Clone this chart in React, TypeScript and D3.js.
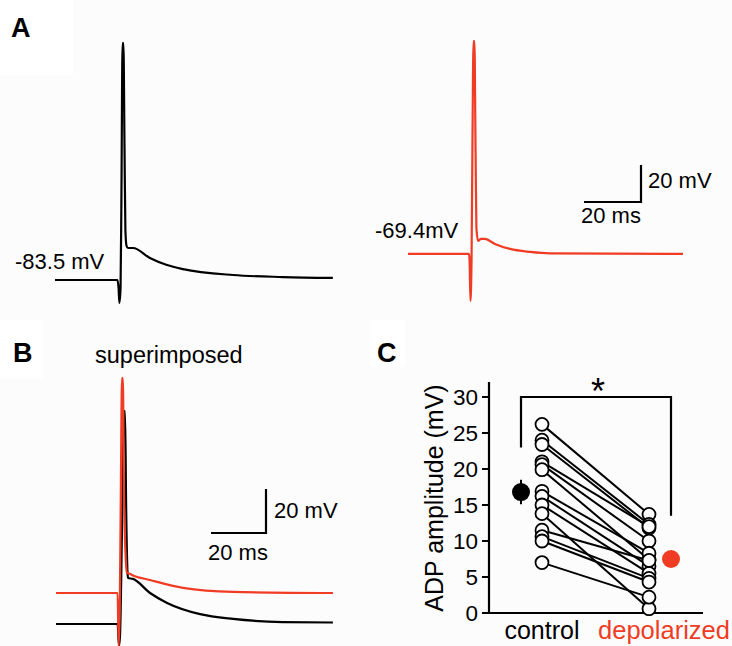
import React, { useEffect, useRef } from 'react';
import * as d3 from 'd3';

// Panel A traces: [time (ms), membrane potential (mV)]
const controlTrace: [number, number][] = [
  [0, -83.5], [21.9, -83.5], [22.3, -87.8], [22.6, -95.9], [23.0, -87.8],
  [23.3, -40.3], [23.7, 44.6], [24.0, 44.6], [24.4, -13.2], [24.7, -56.5],
  [25.1, -65.1], [25.6, -66.2], [27.4, -66.2], [33.3, -71.6], [39.3, -75.4],
  [44.9, -77.6], [62.5, -80.8], [80.0, -81.9], [97.5, -82.4],
];
const depolTrace: [number, number][] = [
  [0, -69.4], [21.4, -69.4], [21.6, -72.6], [21.9, -94.8], [22.3, -72.6],
  [22.6, -12.1], [23.0, 45.7], [23.3, 45.7], [23.7, -12.1], [24.0, -55.3],
  [24.6, -62.4], [25.6, -61.3], [27.0, -61.3], [30.5, -64.0], [35.8, -66.7],
  [42.8, -68.3], [49.8, -69.1], [96.5, -69.4],
];

// Panel B (superimposed) traces
const superControl: [number, number][] = [
  [0, -83.5], [22.4, -83.5], [22.9, -93.5], [23.3, -88], [24.0, -40],
  [24.7, 13.3], [25.1, 13.3], [25.5, -30], [26.0, -60], [26.2, -62.6],
  [28.0, -63.0], [34.2, -69.4], [40.4, -73.9], [52.4, -79.0], [64.4, -81.2],
  [82.5, -82.6], [100.7, -82.8],
];
const superDepol: [number, number][] = [
  [0, -69.4], [22.4, -69.4], [22.8, -93.5], [23.2, -75], [23.6, -20],
  [24.0, 28.3], [24.3, 28.3], [24.7, -20], [25.4, -55], [25.8, -60.3],
  [26.5, -60.5], [27.6, -61.2], [34.2, -63.5], [46.2, -67.1], [64.4, -68.9],
  [100.7, -69.4],
];

// Panel C: ADP amplitude per cell (mV)
const groups = ['control', 'depolarized'];
const controlADP = [26.2, 24.0, 23.4, 21.0, 20.6, 19.9, 16.9, 16.2, 15.0, 13.8, 11.5, 10.6, 10.0, 7.0];
const depolADP = [13.7, 12.3, 11.8, 12.0, 10.0, 7.4, 8.3, 6.5, 5.5, 0.6, 7.3, 4.8, 4.3, 2.2];
const groupMeans = [16.8, 7.5];
const groupSEM = [1.7, 1.0];
const yTicks = [0, 5, 10, 15, 20, 25, 30];

const RED = '#f03c24';
const FONT = '"Liberation Sans", Arial, sans-serif';

const App = () => {
  const svgRef = useRef<SVGSVGElement>(null);

  useEffect(() => {
    const svg = d3.select(svgRef.current);
    svg.selectAll('*').remove();
    svg.attr('width', 732).attr('height', 646).style('font-family', FONT);

    svg.append('rect').attr('width', 732).attr('height', 646).attr('fill', '#fcfcfc');
    // white label patches
    svg.append('rect').attr('x', 0).attr('y', 0).attr('width', 73).attr('height', 75).attr('fill', '#fff');
    svg.append('rect').attr('x', 0).attr('y', 320).attr('width', 43).attr('height', 58).attr('fill', '#fff');
    svg.append('rect').attr('x', 370).attr('y', 320).attr('width', 35).attr('height', 47).attr('fill', '#fff');

    const label = (x: number, y: number, txt: string, size: number, opts: any = {}) =>
      svg.append('text')
        .attr('x', x).attr('y', y)
        .style('font-size', size + 'px')
        .style('font-weight', opts.bold ? 'bold' : 'normal')
        .attr('fill', opts.color || '#000')
        .attr('text-anchor', opts.anchor || 'start')
        .text(txt);

    // ---------- Panel A ----------
    const yA = d3.scaleLinear().domain([-83.5, 0]).range([280, 280 - 83.5 * 1.85]);
    const xA1 = d3.scaleLinear().domain([0, 100]).range([55, 340]);
    const xA2 = d3.scaleLinear().domain([0, 100]).range([408, 693]);

    const lineA1 = d3.line<[number, number]>().x(d => xA1(d[0])).y(d => yA(d[1])).curve(d3.curveMonotoneX);
    const lineA2 = d3.line<[number, number]>().x(d => xA2(d[0])).y(d => yA(d[1])).curve(d3.curveMonotoneX);

    svg.append('path').datum(controlTrace).attr('fill', 'none').attr('stroke', '#000')
      .attr('stroke-width', 2.2).attr('stroke-linejoin', 'round').attr('d', lineA1);
    svg.append('path').datum(depolTrace).attr('fill', 'none').attr('stroke', RED)
      .attr('stroke-width', 2.2).attr('stroke-linejoin', 'round').attr('d', lineA2);

    label(11, 37, 'A', 27, { bold: true });
    label(15, 269, '-83.5 mV', 22);
    label(375, 238, '-69.4mV', 22);

    // scale bar A
    const barAx = 641, barAy = 202;
    const msA = xA2(20) - xA2(0);
    const mvA = yA(-83.5) - yA(-63.5);
    svg.append('path').attr('fill', 'none').attr('stroke', '#000').attr('stroke-width', 2.2)
      .attr('d', `M${barAx - msA},${barAy}H${barAx}V${barAy - mvA}`);
    label(648, 188, '20 mV', 22);
    label(581, 223, '20 ms', 22);

    // ---------- Panel B ----------
    const yB = d3.scaleLinear().domain([-69.4, 0]).range([593, 593 - 69.4 * 2.2]);
    const xB = d3.scaleLinear().domain([0, 100]).range([56, 331]);
    const lineB = d3.line<[number, number]>().x(d => xB(d[0])).y(d => yB(d[1])).curve(d3.curveMonotoneX);

    svg.append('path').datum(superControl).attr('fill', 'none').attr('stroke', '#000')
      .attr('stroke-width', 2.2).attr('stroke-linejoin', 'round').attr('d', lineB);
    svg.append('path').datum(superDepol).attr('fill', 'none').attr('stroke', RED)
      .attr('stroke-width', 2.2).attr('stroke-linejoin', 'round').attr('d', lineB);

    label(13, 362, 'B', 27, { bold: true });
    label(95, 363, 'superimposed', 23.5);

    const barBx = 266, barBy = 533;
    const msB = xB(20) - xB(0);
    const mvB = yB(-69.4) - yB(-49.4);
    svg.append('path').attr('fill', 'none').attr('stroke', '#000').attr('stroke-width', 2.2)
      .attr('d', `M${barBx - msB},${barBy}H${barBx}V${barBy - mvB}`);
    label(274, 518, '20 mV', 22);
    label(208, 560, '20 ms', 22);

    // ---------- Panel C ----------
    const yC = d3.scaleLinear().domain([0, 30]).range([613, 397]);
    const xC = d3.scalePoint<string>().domain(groups).range([542, 649]);
    const meanOffset = [-21, 22];

    label(377, 362, 'C', 27, { bold: true });

    // axes
    const axisX = 489;
    svg.append('line').attr('x1', axisX).attr('x2', axisX).attr('y1', 382).attr('y2', yC(0))
      .attr('stroke', '#000').attr('stroke-width', 2.2);
    svg.append('line').attr('x1', axisX).attr('x2', 703).attr('y1', yC(0)).attr('y2', yC(0))
      .attr('stroke', '#000').attr('stroke-width', 2.2);
    yTicks.forEach(t => {
      svg.append('line').attr('x1', axisX - 7).attr('x2', axisX).attr('y1', yC(t)).attr('y2', yC(t))
        .attr('stroke', '#000').attr('stroke-width', 2);
      svg.append('text').attr('x', 478).attr('y', yC(t)).attr('dy', '0.36em')
        .attr('text-anchor', 'end').style('font-size', '22.5px').text(t);
    });
    svg.append('text')
      .attr('transform', `translate(443,498) rotate(-90)`)
      .attr('text-anchor', 'middle').style('font-size', '25px')
      .text('ADP amplitude (mV)');

    label(xC('control')!, 639, 'control', 25, { anchor: 'middle' });
    label(664, 639, 'depolarized', 25.5, { anchor: 'middle', color: RED });

    // paired lines
    controlADP.forEach((c, i) => {
      svg.append('line')
        .attr('x1', xC('control')!).attr('y1', yC(c))
        .attr('x2', xC('depolarized')!).attr('y2', yC(depolADP[i]))
        .attr('stroke', '#000').attr('stroke-width', 2);
    });
    [controlADP, depolADP].forEach((vals, g) => {
      vals.forEach(v => {
        svg.append('circle').attr('cx', xC(groups[g])!).attr('cy', yC(v)).attr('r', 6.5)
          .attr('fill', '#fff').attr('stroke', '#000').attr('stroke-width', 1.8);
      });
    });

    // means +/- SEM
    groupMeans.forEach((m, g) => {
      const cx = xC(groups[g])! + meanOffset[g];
      const col = g === 0 ? '#000' : RED;
      svg.append('line').attr('x1', cx).attr('x2', cx)
        .attr('y1', yC(m - groupSEM[g])).attr('y2', yC(m + groupSEM[g]))
        .attr('stroke', col).attr('stroke-width', 2);
      svg.append('circle').attr('cx', cx).attr('cy', yC(m)).attr('r', 9).attr('fill', col);
    });

    // significance bracket
    const bx1 = xC('control')! + meanOffset[0];
    const bx2 = xC('depolarized')! + meanOffset[1];
    svg.append('path').attr('fill', 'none').attr('stroke', '#000').attr('stroke-width', 2.2)
      .attr('d', `M${bx1},${yC(23)}V${yC(30)}H${bx2}V${yC(13.5)}`);
    label((bx1 + bx2) / 2 + 2, 404, '*', 36, { anchor: 'middle' });
  }, []);

  return (
    <div style={{ position: 'absolute', left: 0, top: 0 }}>
      <svg ref={svgRef}></svg>
    </div>
  );
};

export default App;
